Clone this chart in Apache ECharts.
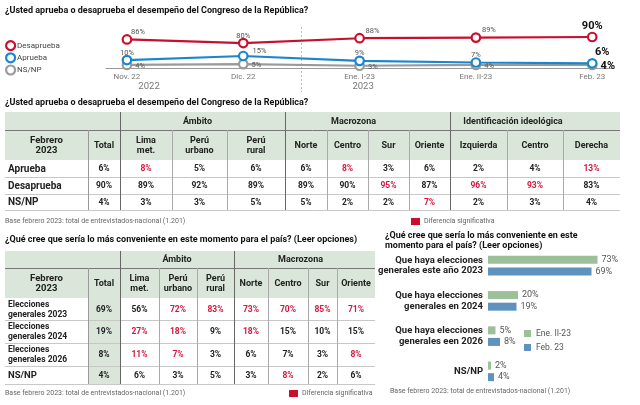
<!DOCTYPE html>
<html><head><meta charset="utf-8">
<style>html,body{margin:0;padding:0;background:#fff}#c{width:640px;height:405px}</style>
<script src="https://cdn.jsdelivr.net/npm/echarts@6/dist/echarts.min.js"></script>
</head><body><div id="c"></div>
<script>
// ---------- DATA ----------
const periods = ['Nov. 22', 'Dic. 22', 'Ene. I-23', 'Ene. II-23', 'Feb. 23'];
const desaprueba = [86, 80, 88, 89, 90];
const aprueba = [10, 15, 9, 7, 6];
const nsnp = [4, 5, 3, 4, 4];
const years = ['2022', '2023'];

const t1Groups = ['Ámbito', 'Macrozona', 'Identificación ideológica'];
const t1Columns = ['Total', 'Lima\nmet.', 'Perú\nurbano', 'Perú\nrural', 'Norte', 'Centro', 'Sur', 'Oriente', 'Izquierda', 'Centro', 'Derecha'];
const t1Rows = ['Aprueba', 'Desaprueba', 'NS/NP'];
const t1Aprueba = [6, 8, 5, 6, 6, 8, 3, 6, 2, 4, 13];
const t1Desaprueba = [90, 89, 92, 89, 89, 90, 95, 87, 96, 93, 83];
const t1Nsnp = [4, 3, 3, 5, 5, 2, 2, 7, 2, 3, 4];
const t1AprSig = [0, 1, 0, 0, 0, 1, 0, 0, 0, 0, 1];
const t1DesSig = [0, 0, 0, 0, 0, 0, 1, 0, 1, 1, 0];
const t1NsSig = [0, 0, 0, 0, 0, 0, 0, 1, 0, 0, 0];

const t2Groups = ['Ámbito', 'Macrozona'];
const t2Columns = ['Total', 'Lima\nmet.', 'Perú\nurbano', 'Perú\nrural', 'Norte', 'Centro', 'Sur', 'Oriente'];
const t2Rows = ['Elecciones\ngenerales 2023', 'Elecciones\ngenerales 2024', 'Elecciones\ngenerales 2026', 'NS/NP'];
const t2E2023 = [69, 56, 72, 83, 73, 70, 85, 71];
const t2E2024 = [19, 27, 18, 9, 18, 15, 10, 15];
const t2E2026 = [8, 11, 7, 3, 6, 7, 3, 8];
const t2Nsnp = [4, 6, 3, 5, 3, 8, 2, 6];
const t2Sig2023 = [0, 0, 1, 1, 1, 1, 1, 1];
const t2Sig2024 = [0, 1, 1, 0, 1, 0, 0, 0];
const t2Sig2026 = [0, 1, 1, 0, 0, 0, 0, 1];
const t2SigNs = [0, 0, 0, 0, 0, 1, 0, 0];

const barCategories = ['Que haya elecciones\ngenerales este año 2023', 'Que haya elecciones\ngenerales en 2024', 'Que haya elecciones\ngenerales een 2026', 'NS/NP'];
const barEneII = [73, 20, 5, 2];
const barFeb = [69, 19, 8, 4];

// ---------- STYLE ----------
const F = "Roboto, 'Liberation Sans', sans-serif";
const RED = '#c8102e', BLUE = '#1a86cf', GRAY = '#9a9a9a';
const GREEN = '#d9e6d9', SIG = '#d4173f', TXT = '#222';
const BAR_G = '#9dbf99', BAR_B = '#5f93bd';

// ---------- TABLE HELPERS ----------
function edges(arr) { const e = [0]; arr.forEach(w => e.push(e[e.length - 1] + w)); return e; }

function tableSeries(idx, colW, rowH, cells, lines) {
  const xe = edges(colW), ye = edges(rowH);
  const cellSeries = {
    type: 'custom', xAxisIndex: idx, yAxisIndex: idx, clip: false, silent: true,
    data: cells.map(() => [0, 0]),
    renderItem(params, api) {
      const c = cells[params.dataIndex];
      const p0 = api.coord([xe[c.c], ye[c.r]]);
      const p1 = api.coord([xe[c.c + (c.cs || 1)], ye[c.r + (c.rs || 1)]]);
      const ch = [{ type: 'rect', z2: 0, shape: { x: p0[0], y: p0[1], width: p1[0] - p0[0], height: p1[1] - p0[1] }, style: { fill: c.bg } }];
      if (c.text !== undefined) {
        const left = c.align === 'left';
        ch.push({
          type: 'text', z2: 5,
          x: left ? p0[0] + 3 : (p0[0] + p1[0]) / 2 + (c.dx || 0),
          y: (p0[1] + p1[1]) / 2 + 0.5,
          style: {
            text: c.text, fill: c.color || TXT, fontFamily: F, fontWeight: 'bold',
            fontSize: c.fs || 9, lineHeight: c.lh || 10,
            align: left ? 'left' : 'center', verticalAlign: 'middle'
          }
        });
      }
      return { type: 'group', children: ch };
    }
  };
  const lineSeries = {
    type: 'custom', xAxisIndex: idx, yAxisIndex: idx, clip: false, silent: true, z: 3,
    data: lines.map(() => [0, 0]),
    renderItem(params, api) {
      const L = lines[params.dataIndex];
      let a, b;
      if (L.v) { a = api.coord([xe[L.e], ye[L.r0]]); b = api.coord([xe[L.e], ye[L.r1]]); a[0] = b[0] = Math.round(a[0]) + 0.5; }
      else { a = api.coord([xe[L.c0], ye[L.e]]); b = api.coord([xe[L.c1], ye[L.e]]); a[1] = b[1] = Math.round(a[1]) + 0.5; }
      return { type: 'line', shape: { x1: a[0], y1: a[1], x2: b[0], y2: b[1] }, style: { stroke: L.color, lineWidth: L.w || 1 } };
    }
  };
  return [cellSeries, lineSeries];
}

// Table 1 layout
const t1ColW = [83, 32, 52, 55, 58, 42, 41, 41, 41, 57, 56, 57];
const t1RowH = [18, 30, 17, 17, 16];
const t1Cells = [];
t1Cells.push({ c: 0, r: 0, cs: 2, bg: GREEN });
t1Cells.push({ c: 2, r: 0, cs: 3, bg: GREEN, text: t1Groups[0], dx: -5 });
t1Cells.push({ c: 5, r: 0, cs: 4, bg: GREEN, text: t1Groups[1], dx: -14 });
t1Cells.push({ c: 9, r: 0, cs: 3, bg: GREEN, text: t1Groups[2], dx: -22 });
t1Cells.push({ c: 0, r: 1, bg: GREEN, text: 'Febrero\n2023', fs: 9.5 });
t1Columns.forEach((n, i) => t1Cells.push({ c: i + 1, r: 1, bg: GREEN, text: n }));
[[t1Aprueba, t1AprSig], [t1Desaprueba, t1DesSig], [t1Nsnp, t1NsSig]].forEach((row, ri) => {
  t1Cells.push({ c: 0, r: ri + 2, bg: '#fff', text: t1Rows[ri], align: 'left', fs: 10 });
  row[0].forEach((v, ci) => t1Cells.push({ c: ci + 1, r: ri + 2, bg: '#fff', text: v + '%', fs: 8.5, color: row[1][ci] ? SIG : TXT }));
});
const t1Lines = [];
[3, 4, 5].forEach(e => t1Lines.push({ h: 1, e, c0: 0, c1: 12, color: '#c8c8c8' }));
t1Lines.push({ h: 1, e: 1, c0: 0, c1: 12, color: '#777' });
t1Lines.push({ v: 1, e: 1, r0: 1, r1: 5, color: '#999' });
[3, 4, 6, 7, 8, 10, 11].forEach(e => t1Lines.push({ v: 1, e, r0: 1, r1: 5, color: '#aaa' }));
[2, 5, 9].forEach(e => t1Lines.push({ v: 1, e, r0: 0, r1: 5, color: '#666' }));

// Table 2 layout
const t2ColW = [83, 32, 39, 38, 37, 34, 40, 29, 38];
const t2RowH = [17, 30, 22, 23, 23, 18];
const t2Cells = [];
t2Cells.push({ c: 0, r: 0, cs: 2, bg: GREEN });
t2Cells.push({ c: 2, r: 0, cs: 3, bg: GREEN, text: t2Groups[0], dx: 0 });
t2Cells.push({ c: 5, r: 0, cs: 4, bg: GREEN, text: t2Groups[1], dx: -4 });
t2Cells.push({ c: 0, r: 1, bg: GREEN, text: 'Febrero\n2023', fs: 9.5 });
t2Columns.forEach((n, i) => t2Cells.push({ c: i + 1, r: 1, bg: GREEN, text: n }));
[[t2E2023, t2Sig2023], [t2E2024, t2Sig2024], [t2E2026, t2Sig2026], [t2Nsnp, t2SigNs]].forEach((row, ri) => {
  t2Cells.push({ c: 0, r: ri + 2, bg: '#fff', text: t2Rows[ri], align: 'left', fs: ri === 3 ? 9.5 : 8.5, lh: 10 });
  row[0].forEach((v, ci) => t2Cells.push({ c: ci + 1, r: ri + 2, bg: ci === 0 ? GREEN : '#fff', text: v + '%', fs: 8.5, color: row[1][ci] ? SIG : TXT }));
});
const t2Lines = [];
[3, 4, 5, 6].forEach(e => t2Lines.push({ h: 1, e, c0: 0, c1: 9, color: '#c8c8c8' }));
t2Lines.push({ h: 1, e: 1, c0: 0, c1: 9, color: '#777' });
t2Lines.push({ v: 1, e: 1, r0: 1, r1: 6, color: '#999' });
[3, 4, 6, 7, 8].forEach(e => t2Lines.push({ v: 1, e, r0: 1, r1: 6, color: '#aaa' }));
[2, 5].forEach(e => t2Lines.push({ v: 1, e, r0: 0, r1: 6, color: '#666' }));

// ---------- LINE LABELS ----------
const small = { fontSize: 7.5, color: '#555', fontFamily: F };
const big = { fontSize: 11, color: '#111', fontWeight: 'bold', fontFamily: F };
function lineData(vals, cfgs) {
  return vals.map((v, i) => {
    const cfg = cfgs[i];
    return { value: [i, v], label: Object.assign({ show: true, formatter: v + '%' }, i === vals.length - 1 ? big : small, cfg) };
  });
}
const desCfg = [
  { position: 'top', distance: -2, offset: [11, 0] }, { position: 'top', distance: -2, offset: [0, 0] },
  { position: 'top', distance: -2, offset: [13, 0] }, { position: 'top', distance: -2, offset: [13, 0] },
  { position: 'top', distance: 0, offset: [0, 0] }];
const aprCfg = [
  { position: 'top', distance: -2, offset: [0, 0] }, { position: 'right', distance: 4, offset: [0, -5] },
  { position: 'top', distance: -2, offset: [0, 0] }, { position: 'top', distance: -2, offset: [0, 0] },
  { position: 'top', distance: 0, offset: [10, 0] }];
const nsCfg = [0, 1, 2, 3, 4].map(() => ({ position: 'right', distance: 3, offset: [0, 1] }));

function lineSeries(name, vals, color, cfg, z, yIdx) {
  return {
    type: 'line', name, xAxisIndex: 0, yAxisIndex: yIdx, z,
    data: lineData(vals, cfg), symbol: 'circle', symbolSize: 8.5,
    itemStyle: { color: '#fff', borderColor: color, borderWidth: 2.2 },
    lineStyle: { color, width: 2.2 }
  };
}

const chart = echarts.init(document.getElementById('c'), null, { renderer: 'canvas' });
const txt = (x, y, text, o) => ({ type: 'text', x, y, style: Object.assign({ text, fontFamily: F, fill: '#555', fontSize: 7, verticalAlign: 'middle' }, o || {}) });
const titleStyle = { fill: '#111', fontSize: 9, fontWeight: 'bold' };

const option = {
  animation: false,
  backgroundColor: '#fff',
  legend: [
    {
      orient: 'vertical', left: 5, top: 40, padding: 0, itemWidth: 9, itemHeight: 9, itemGap: 1,
      textStyle: { fontFamily: F, fontSize: 8, color: '#444', padding: [0, 0, 0, -3], lineHeight: 10 },
      data: [
        { name: 'Desaprueba', icon: 'circle', itemStyle: { color: '#fff', borderColor: RED, borderWidth: 2.2 } },
        { name: 'Aprueba', icon: 'circle', itemStyle: { color: '#fff', borderColor: BLUE, borderWidth: 2.2 } },
        { name: 'NS/NP', icon: 'circle', itemStyle: { color: '#fff', borderColor: GRAY, borderWidth: 2.2 } }
      ], selectedMode: false
    },
    {
      orient: 'vertical', left: 524, top: 328, padding: 0, itemWidth: 7, itemHeight: 7, itemGap: 3, icon: 'rect',
      textStyle: { fontFamily: F, fontSize: 8.5, color: '#555', lineHeight: 11 }, data: ['Ene. II-23', 'Feb. 23'], selectedMode: false
    }
  ],
  grid: [
    { left: 106, right: 28, top: 34, height: 35 },
    { left: 488, width: 150, top: 248, height: 141 },
    { left: 5, top: 112, width: 615, height: 98 },
    { left: 5, top: 251, width: 370, height: 133 }
  ],
  xAxis: [
    {
      gridIndex: 0, type: 'value', min: -0.18, max: 4.17,
      axisLine: { show: true, lineStyle: { color: '#999', width: 1 } }, axisTick: { show: false }, splitLine: { show: false },
      axisLabel: { customValues: [0, 1, 2, 3, 4], formatter: v => periods[Math.round(v)], color: '#777', fontSize: 8, fontFamily: F, margin: 4 }
    },
    { gridIndex: 1, type: 'value', min: 0, max: 100, show: false },
    { gridIndex: 2, type: 'value', min: 0, max: 615, show: false },
    { gridIndex: 3, type: 'value', min: 0, max: 370, show: false }
  ],
  yAxis: [
    { gridIndex: 0, type: 'value', min: 37, max: 95, show: false },
    {
      gridIndex: 1, type: 'category', data: barCategories, inverse: true,
      axisLine: { show: false }, axisTick: { show: false },
      axisLabel: { fontFamily: F, fontWeight: 'bold', fontSize: 9.5, color: TXT, lineHeight: 10.5, margin: 5, align: 'right' }
    },
    { gridIndex: 2, type: 'value', min: 0, max: 98, inverse: true, show: false },
    { gridIndex: 3, type: 'value', min: 0, max: 133, inverse: true, show: false },
    { gridIndex: 0, type: 'value', min: -1, max: 42, show: false }
  ],
  series: [
    lineSeries('Desaprueba', desaprueba, RED, desCfg, 3, 0),
    lineSeries('Aprueba', aprueba, BLUE, aprCfg, 2, 4),
    lineSeries('NS/NP', nsnp, GRAY, nsCfg, 1, 4),
    {
      type: 'bar', name: 'Ene. II-23', xAxisIndex: 1, yAxisIndex: 1, data: barEneII, barWidth: 8, barGap: '45%',
      itemStyle: { color: BAR_G }, label: { show: true, position: 'right', distance: 4, formatter: '{c}%', color: '#555', fontSize: 9, fontFamily: F }
    },
    {
      type: 'bar', name: 'Feb. 23', xAxisIndex: 1, yAxisIndex: 1, data: barFeb, barWidth: 8, barGap: '45%',
      itemStyle: { color: BAR_B }, label: { show: true, position: 'right', distance: 4, formatter: '{c}%', color: '#555', fontSize: 9, fontFamily: F }
    },
    ...tableSeries(2, t1ColW, t1RowH, t1Cells, t1Lines),
    ...tableSeries(3, t2ColW, t2RowH, t2Cells, t2Lines)
  ]
};
chart.setOption(option);

const xDiv = chart.convertToPixel({ xAxisIndex: 0 }, 1.5);
const xY1 = chart.convertToPixel({ xAxisIndex: 0 }, 0.19);
const xY2 = chart.convertToPixel({ xAxisIndex: 0 }, 2.03);
chart.setOption({
  graphic: [
    { type: 'line', shape: { x1: Math.round(xDiv) + 0.5, y1: 27, x2: Math.round(xDiv) + 0.5, y2: 92 }, style: { stroke: '#bbb', lineWidth: 1, lineDash: [2, 2] } },
    txt(xY1, 87, years[0], { fill: '#777', fontSize: 9.5, align: 'center' }),
    txt(xY2, 87, years[1], { fill: '#777', fontSize: 9.5, align: 'center' }),
    txt(5, 11, '¿Usted aprueba o desaprueba el desempeño del Congreso de la República?', titleStyle),
    txt(5, 103, '¿Usted aprueba o desaprueba el desempeño del Congreso de la República?', titleStyle),
    txt(5, 221, 'Base febrero 2023: total de entrevistados-nacional (1.201)', { fill: '#666' }),
    { type: 'rect', shape: { x: 411, y: 218, width: 9, height: 7 }, style: { fill: RED } },
    txt(424, 221.5, 'Diferencia significativa', { fill: '#666' }),
    txt(5, 240, '¿Qué cree que sería lo más conveniente en este momento para el país? (Leer opciones)', titleStyle),
    txt(5, 393, 'Base febrero 2023: total de entrevistados-nacional (1.201)', { fill: '#666' }),
    { type: 'rect', shape: { x: 289, y: 390, width: 9, height: 7 }, style: { fill: RED } },
    txt(302, 393.5, 'Diferencia significativa', { fill: '#666' }),
    txt(385, 236, '¿Qué cree que sería lo más conveniente en este', titleStyle),
    txt(385, 245.5, 'momento para el país? (Leer opciones)', titleStyle),
    txt(390, 391, 'Base febrero 2023: total de entrevistados-nacional (1.201)', { fill: '#666' })
  ]
});
</script></body></html>
